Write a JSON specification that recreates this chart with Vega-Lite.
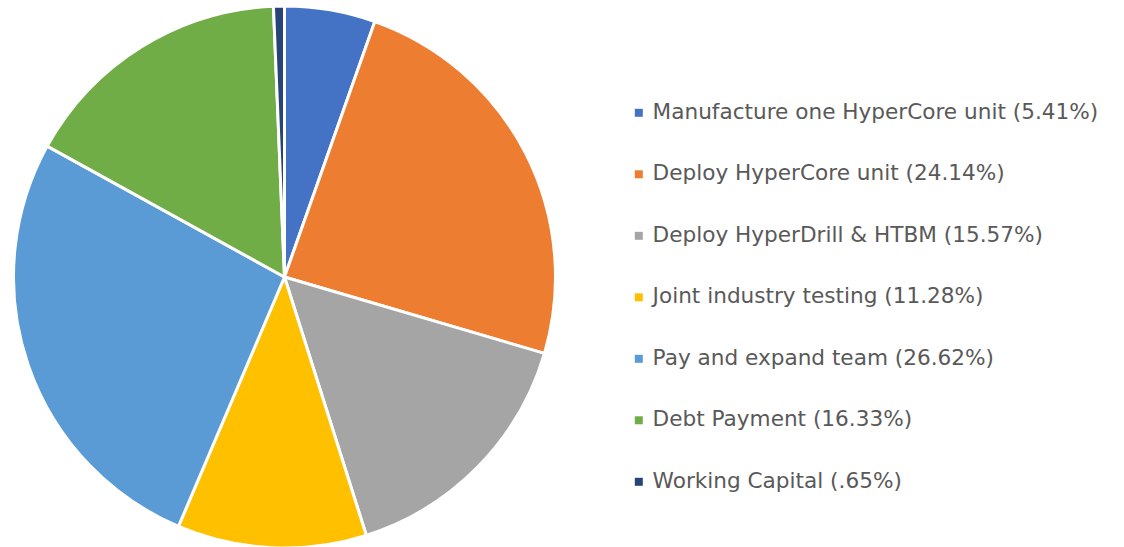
{
  "$schema": "https://vega.github.io/schema/vega-lite/v6.json",
  "width": 569,
  "height": 550,
  "padding": 0,
  "background": "white",
  "data": {
    "values": [
      {"item": "Manufacture one HyperCore unit (5.41%)", "pct": 5.41, "rank": 1},
      {"item": "Deploy HyperCore unit (24.14%)", "pct": 24.14, "rank": 2},
      {"item": "Deploy HyperDrill & HTBM (15.57%)", "pct": 15.57, "rank": 3},
      {"item": "Joint industry testing (11.28%)", "pct": 11.28, "rank": 4},
      {"item": "Pay and expand team (26.62%)", "pct": 26.62, "rank": 5},
      {"item": "Debt Payment (16.33%)", "pct": 16.33, "rank": 6},
      {"item": "Working Capital (.65%)", "pct": 0.65, "rank": 7}
    ]
  },
  "mark": {"type": "arc", "outerRadius": 271, "stroke": "white", "strokeWidth": 3},
  "encoding": {
    "theta": {"field": "pct", "type": "quantitative", "stack": true},
    "order": {"field": "rank", "type": "quantitative"},
    "color": {
      "field": "item",
      "type": "nominal",
      "scale": {
        "domain": [
          "Manufacture one HyperCore unit (5.41%)",
          "Deploy HyperCore unit (24.14%)",
          "Deploy HyperDrill & HTBM (15.57%)",
          "Joint industry testing (11.28%)",
          "Pay and expand team (26.62%)",
          "Debt Payment (16.33%)",
          "Working Capital (.65%)"
        ],
        "range": ["#4472C4", "#ED7D31", "#A5A5A5", "#FFC000", "#5B9BD5", "#70AD47", "#264478"]
      },
      "legend": {
        "title": null,
        "orient": "none",
        "legendX": 628,
        "legendY": 100,
        "symbolType": "square",
        "symbolSize": 64,
        "symbolStrokeWidth": 0,
        "labelFont": "DejaVu Sans",
        "labelFontSize": 21.6,
        "labelColor": "#595959",
        "labelOffset": 3,
        "rowPadding": 38.5,
        "labelLimit": 600
      }
    }
  },
  "config": {"view": {"stroke": null}}
}
